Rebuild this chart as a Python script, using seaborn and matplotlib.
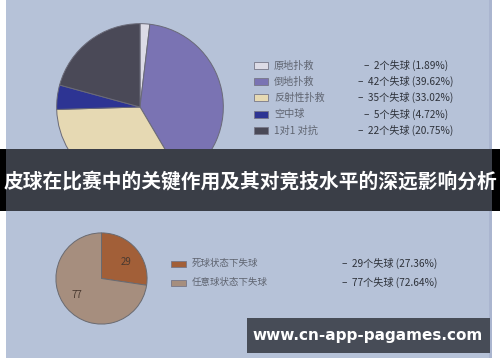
import matplotlib
matplotlib.use("Agg")
import matplotlib.pyplot as plt
from matplotlib.patches import Rectangle
import seaborn as sns

# ---- data ----
top_labels = ['原地扑救', '倒地扑救', '反射性扑救', '空中球', '1对1 对抗']
top_goals = [2, 42, 35, 5, 22]
top_colors = ['#dcdbe6', '#7a73b3', '#e6d9b3', '#2d3493', '#4a4957']

bot_labels = ['死球状态下失球', '任意球状态下失球']
bot_goals = [29, 77]
bot_colors = ['#a25f38', '#a68e7e']

title_text = '皮球在比赛中的关键作用及其对竞技水平的深远影响分析'
watermark = 'www.cn-app-pagames.com'

sns.set_theme(style='white')
plt.rcParams['font.family'] = ['Noto Sans CJK SC', 'DejaVu Sans']

W, H = 500, 362
fig = plt.figure(figsize=(W / 100, H / 100), dpi=100)
fig.patch.set_facecolor('white')

def fx(x):
    return x / W

def fy(y):
    return 1 - y / H

def rect(x0, y0, x1, y1, **kw):
    r = Rectangle((fx(x0), fy(y1)), fx(x1 - x0), (y1 - y0) / H,
                  transform=fig.transFigure, **kw)
    fig.add_artist(r)
    return r

# panel background
rect(6, 0, 492, 358, facecolor='#b6c2d8', edgecolor='none', zorder=-5)
rect(489, 0, 492, 358, facecolor='#aab5cf', edgecolor='none', zorder=-4)

# ---- top pie ----
cx, cy, r = 140, 107, 85
ax1 = fig.add_axes([fx(cx - r), fy(cy + r), 2 * r / W, 2 * r / H])
ax1.pie(top_goals, colors=top_colors, startangle=90, counterclock=False,
        wedgeprops=dict(edgecolor='#6a6a78', linewidth=0.7))
ax1.set_xlim(-1.02, 1.02)
ax1.set_ylim(-1.02, 1.02)
ax1.set_facecolor('none')
ax1.axis('off')

# ---- bottom pie ----
cx2, cy2, r2 = 101.5, 278.5, 46.5
ax2 = fig.add_axes([fx(cx2 - r2), fy(cy2 + r2), 2 * r2 / W, 2 * r2 / H])
ax2.pie(bot_goals, colors=bot_colors, startangle=90, counterclock=False,
        labels=[str(v) for v in bot_goals], labeldistance=0.55,
        textprops=dict(fontsize=7, color='#4a3a30', style='italic'),
        wedgeprops=dict(edgecolor='#6a6a70', linewidth=0.7))
ax2.set_xlim(-1.02, 1.02)
ax2.set_ylim(-1.02, 1.02)
ax2.axis('off')

# ---- legends ----
tot_top = sum(top_goals)
row_y = [65.5 + 16.2 * i for i in range(len(top_labels))]
for lab, g, c, y in zip(top_labels, top_goals, top_colors, row_y):
    rect(254, y - 3.5, 268, y + 3.5, facecolor=c, edgecolor='#777788',
         linewidth=0.6, zorder=2)
    fig.text(fx(274), fy(y), lab, fontsize=7.3, color='#5f6470',
             ha='left', va='center')
    fig.text(fx(406), fy(y), f'–  {g}个失球 ({g / tot_top * 100:.2f}%)',
             fontsize=7.3, color='#2e323a', ha='center', va='center')

tot_bot = sum(bot_goals)
row_y2 = [263.5, 282.5]
for lab, g, c, y in zip(bot_labels, bot_goals, bot_colors, row_y2):
    rect(171, y - 3, 186, y + 3, facecolor=c, edgecolor='#777788',
         linewidth=0.6, zorder=2)
    fig.text(fx(192), fy(y), lab, fontsize=6.8, color='#5f6470',
             ha='left', va='center')
    fig.text(fx(390), fy(y), f'–  {g}个失球 ({g / tot_bot * 100:.2f}%)',
             fontsize=7.3, color='#2e323a', ha='center', va='center')

# ---- title banner ----
rect(0, 149, 500, 211, facecolor='black', edgecolor='none', zorder=1)
rect(6, 149, 492, 211, facecolor='#474c57', edgecolor='none', zorder=1.1,
     alpha=0.82)
fig.text(0.5, fy(182), title_text, fontsize=14.2, fontweight='bold',
         color='white', ha='center', va='center', zorder=3)

# ---- watermark ----
rect(247, 318, 490, 353, facecolor='#474c57', edgecolor='none', zorder=1)
fig.text(fx(368), fy(335.5), watermark, fontsize=11, fontweight='bold',
         color='white', ha='center', va='center', zorder=3,
         family=['DejaVu Sans'])

fig.savefig('out.png', dpi=100)
